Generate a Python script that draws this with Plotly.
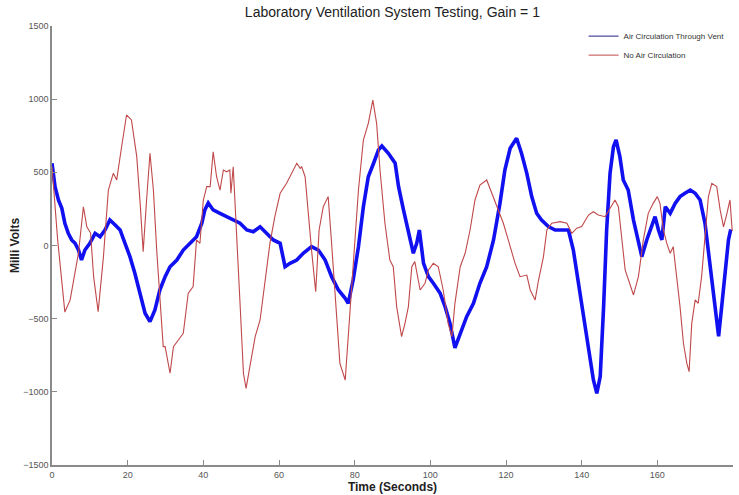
import plotly.graph_objects as go

# Blue: Air Circulation Through Vent
blue_t = [0, 0.8, 1.7, 2.6, 3.4, 4.3, 5.2, 6.1, 7.0, 7.8, 8.7, 10.0, 11.4, 12.7, 14.0, 15.3, 16.7, 18.0,
          19.3, 20.6, 21.9, 23.3, 24.6, 25.9, 27.2, 28.5, 29.9, 31.2, 33.0, 34.7, 36.5, 38.2, 39.6, 40.4,
          41.3, 42.6, 44.4, 46.2, 47.9, 49.7, 51.5, 53.2, 55.0, 56.8, 58.5, 60.3, 61.6, 62.9, 64.7, 66.4,
          68.6, 70.4, 72.2, 73.9, 75.7, 77.5, 78.3, 79.6, 81.0, 82.3, 83.6, 85.0, 86.3, 87.2, 88.9, 90.7,
          91.6, 92.9, 94.2, 95.5, 96.4, 97.1, 98.2, 99.5, 100.8, 102.6, 103.9, 105.2, 106.5, 107.9, 109.6,
          111.4, 113.1, 114.9, 116.7, 118.4, 119.7, 121.1, 122.8, 124.1, 125.5, 126.8, 128.1, 129.4, 131.2,
          133.0, 134.7, 136.5, 137.8, 139.1, 140.4, 141.8, 143.1, 144.0, 144.9, 145.8, 146.6, 147.5, 148.4,
          149.1, 150.1, 151.0, 152.3, 153.7, 155.0, 155.9, 157.2, 158.5, 159.4, 160.3, 161.2, 162.1, 163.4,
          164.7, 166.0, 167.3, 168.7, 170.0, 171.3, 172.6, 173.5, 174.4, 175.3, 176.2, 177.1, 178.0, 178.8,
          179.4]
blue_v = [562, 402, 311, 254, 152, 83, 38, 15, -31, -99, -31, 15, 83, 60, 106, 174, 140, 106,
          15, -76, -190, -327, -463, -520, -441, -304, -213, -145, -99, -31, 15, 60, 152, 243,
          290, 243, 220, 197, 174, 152, 106, 94, 128, 83, 38, 15, -145, -122, -99, -53,
          -8, -31, -99, -213, -304, -361, -395, -236, -8, 265, 470, 562, 653, 680, 630, 562,
          402, 243, 106, -53, 15, 106, -122, -213, -258, -327, -418, -532, -700, -600, -486,
          -395, -258, -145, 38, 288, 516, 664, 733, 630, 493, 334, 220, 174, 129,
          106, 106, 106, -31, -258, -486, -714, -919, -1010, -896, -418, 106, 493, 675,
          721, 607, 448, 379, 174, 15, -76, 38, 129, 197, 106, 38, 265, 220,
          288, 334, 357, 379, 357, 311, 152, -53, -258, -441, -620, -395, -167, 38,
          110]

# Red: No Air Circulation
red_t = [0, 1.5, 3.4, 4.8, 7.0, 8.3, 9.2, 10.2, 11.0, 12.2, 13.6, 14.9, 16.2, 17.1, 18.4, 19.7, 21.0,
         22.4, 23.3, 24.1, 25.0, 25.9, 26.8, 27.7, 29.4, 29.9, 31.2, 32.1, 33.4, 34.7, 36.0, 37.3, 38.2,
         39.1, 40.0, 40.9, 41.8, 42.6, 43.5, 44.4, 45.3, 46.2, 47.0, 47.3, 47.9, 48.8, 49.7, 50.6, 51.3,
         52.3, 53.7, 55.0, 56.3, 57.6, 58.9, 60.3, 62.0, 63.4, 64.7, 65.6, 66.0, 66.9, 67.8, 68.6, 69.7,
         70.6, 71.7, 73.0, 73.9, 74.8, 76.1, 77.5, 78.3, 79.6, 81.0, 82.3, 83.6, 84.8, 85.8, 86.7, 88.0,
         89.3, 90.2, 91.1, 92.4, 93.3, 94.2, 95.1, 95.9, 97.3, 98.6, 99.5, 100.8, 102.1, 103.4, 104.7,
         105.7, 106.5, 107.9, 109.2, 110.5, 111.8, 113.1, 114.9, 116.2, 117.6, 119.3, 120.6, 121.1, 122.4,
         123.7, 125.5, 126.4, 127.7, 128.6, 129.9, 130.8, 132.1, 134.3, 136.1, 137.4, 138.7, 140.0, 141.8,
         143.1, 144.4, 146.2, 147.5, 148.8, 149.7, 150.6, 151.5, 153.7, 155.0, 156.3, 157.6, 158.9, 160.0,
         160.7, 161.6, 162.5, 163.4, 164.2, 165.1, 166.0, 166.9, 167.8, 168.4, 169.1, 170.0, 170.8, 171.7,
         172.6, 173.5, 174.4, 175.7, 176.6, 177.5, 178.4, 179.2, 179.8]
red_v = [540, 37, -455, -372, -51, 265, 128, 85, -213, -452, -76, 379, 493, 448, 675, 892, 858,
         607, 288, -42, 311, 630, 379, -42, -691, -691, -873, -691, -646, -600, -327, -281, 38,
         15, 311, 402, 402, 641, 470, 379, 516, 504, 516, 357, 538, 106, -395, -873, -976,
         -828, -623, -509, -258, 15, 197, 357, 425, 493, 562, 527, 538, 470, 197, -31, -316,
         106, 265, 334, 15, -350, -805, -919, -623, -76, 379, 721, 835, 994, 835, 516, 152,
         -99, -145, -418, -623, -532, -418, -145, -110, -304, -258, -167, -122, -145, -304, -532,
         -623, -395, -145, -53, 106, 311, 413, 448, 357, 265, 152, 38, -8, -122,
         -213, -202, -304, -372, -236, -76, 106, 152, 163, 152, 83, 118, 129, 208,
         231, 208, 197, 254, 311, 265, 38, -167, -338, -213, 38, 220, 288, 334,
         288, 106, 15, -53, -8, -213, -418, -668, -805, -862, -532, -372, -395, -213,
         60, 334, 425, 402, 243, 128, 220, 311, 100]

series_names = ["Air Circulation Through Vent", "No Air Circulation"]
BLUE = "#1010f0"
RED = "#c0484a"

fig = go.Figure()
fig.add_trace(go.Scatter(x=blue_t, y=blue_v, mode="lines", name=series_names[0], showlegend=False,
                         line=dict(color=BLUE, width=3.6)))
fig.add_trace(go.Scatter(x=red_t, y=red_v, mode="lines", name=series_names[1], showlegend=False,
                         line=dict(color=RED, width=1.1)))
# legend entries (thin sample lines, as in the reference)
fig.add_trace(go.Scatter(x=[None], y=[None], mode="lines", name=series_names[0],
                         line=dict(color="#202080", width=1)))
fig.add_trace(go.Scatter(x=[None], y=[None], mode="lines", name=series_names[1],
                         line=dict(color=RED, width=1)))

axis_common = dict(showline=True, linecolor="#8a8a8a", linewidth=1.5, ticks="inside", ticklen=5,
                   tickcolor="#8a8a8a", tickwidth=1, showgrid=False, zeroline=False,
                   tickfont=dict(family="Liberation Sans, Arial", size=9, color="#555555"))

fig.update_layout(
    width=739, height=495,
    margin=dict(l=52, r=6, t=26, b=30),
    paper_bgcolor="white", plot_bgcolor="white",
    title=dict(text="Laboratory Ventilation System Testing, Gain = 1", x=0.531, xanchor="center",
               y=0.975, yanchor="middle",
               font=dict(family="Liberation Sans, Arial", size=14, color="#222222")),
    xaxis=dict(range=[0, 180], tickvals=[0, 20, 40, 60, 80, 100, 120, 140, 160, 180],
               title=dict(text="<b>Time (Seconds)</b>", standoff=2,
                          font=dict(family="Liberation Sans, Arial", size=12, color="#222222")),
               **axis_common),
    yaxis=dict(range=[-1500, 1500], tickvals=[-1500, -1000, -500, 0, 500, 1000, 1500],
               title=dict(text="<b>Milli Volts</b>", standoff=1,
                          font=dict(family="Liberation Sans, Arial", size=12, color="#222222")),
               **axis_common),
    legend=dict(x=0.995, y=1.01, xanchor="right", yanchor="top", bgcolor="rgba(255,255,255,0.9)",
                borderwidth=0, tracegroupgap=0, itemwidth=30,
                font=dict(family="Liberation Sans, Arial", size=8, color="#333333")),
    showlegend=True,
)

fig.write_html("out.html", config={"displayModeBar": False},
               post_script="document.body.style.margin='0';")
